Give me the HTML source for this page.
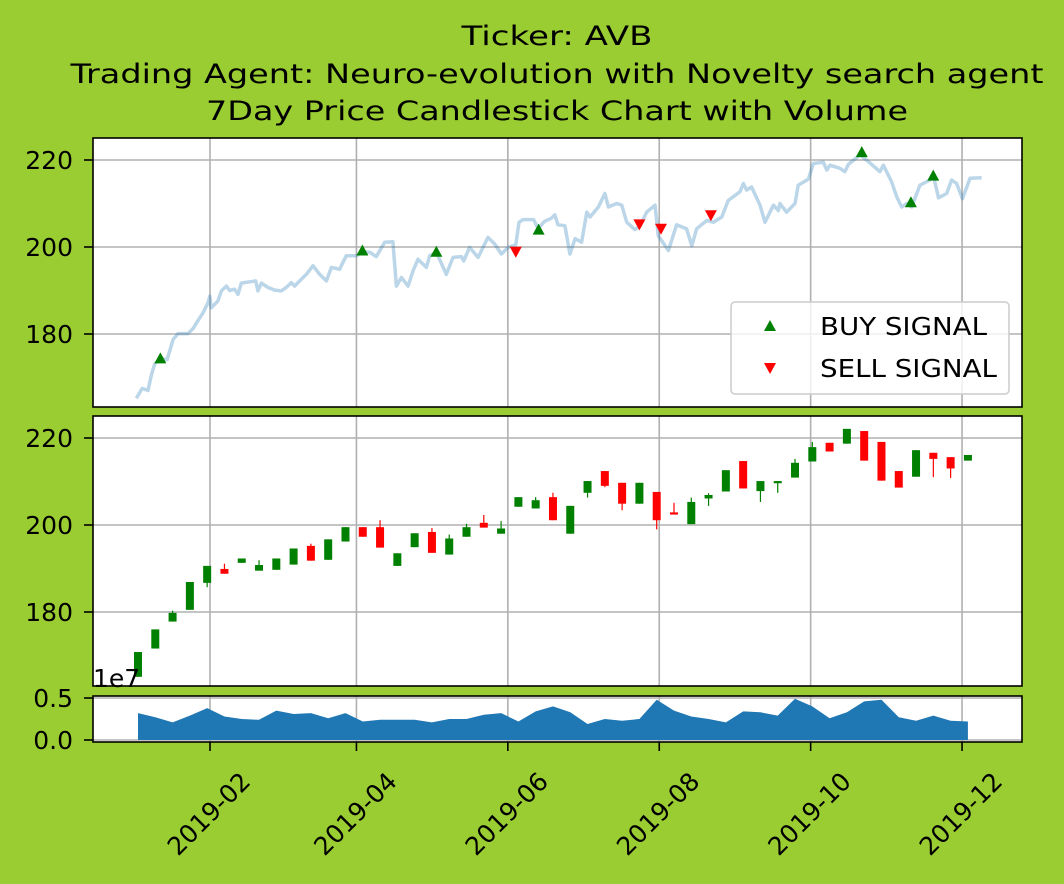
<!DOCTYPE html>
<html><head><meta charset="utf-8"><style>
html,body{margin:0;padding:0;background:#9acd32;}
svg{display:block;font-family:"DejaVu Sans","Liberation Sans",sans-serif;}
</style></head><body>
<svg id="c" width="1064" height="884" viewBox="0 0 1064 884" xmlns="http://www.w3.org/2000/svg">
<rect x="0" y="0" width="1064" height="884" fill="#9acd32"/>
<g font-size="27" text-anchor="middle" fill="#000">
<text x="557" y="45" textLength="191" lengthAdjust="spacingAndGlyphs">Ticker: AVB</text>
<text x="557" y="83" textLength="973" lengthAdjust="spacingAndGlyphs">Trading Agent: Neuro-evolution with Novelty search agent</text>
<text x="557" y="120" textLength="702" lengthAdjust="spacingAndGlyphs">7Day Price Candlestick Chart with Volume</text>
</g>
<defs>
<clipPath id="clip1"><rect x="93" y="138" width="929" height="269"/></clipPath>
<clipPath id="clip2"><rect x="93" y="416" width="929" height="270"/></clipPath>
<clipPath id="clip3"><rect x="93" y="696" width="929" height="46"/></clipPath>
</defs>
<g id="layer"></g>
</svg>
<script>
// ---- data ----
const xTickLabels = ["2019-02","2019-04","2019-06","2019-08","2019-10","2019-12"];
const xTickDays = [31,90,151,212,273,334];
const priceTicks = [180,200,220];
const volTicks = [0.0,0.5];
const lineDays = [1.3,3.7,6.0,7.4,8.7,11.0,13.7,16.1,18.1,22.1,24.1,25.5,28.2,30.2,30.9,31.5,34.2,35.6,37.6,38.9,40.9,42.3,43.6,47.0,49.4,50.3,51.7,54.4,57.1,59.7,61.7,63.8,65.1,67.8,69.8,72.5,75.2,77.9,79.9,83.2,85.9,90.0,92.6,95.3,98.0,101.4,104.7,106.1,108.1,110.8,112.8,114.8,118.2,119.5,122.2,126.2,128.9,132.3,133.2,135.6,139.0,143.0,145.7,148.4,151.1,154.2,155.5,157.1,161.4,163.2,165.8,168.5,169.9,171.2,174.0,176.0,178.1,180.7,182.8,184.1,187.5,190.1,191.5,194.8,196.9,198.9,202.2,204.2,206.9,210.3,211.6,215.7,219.0,223.0,225.1,227.1,231.1,233.8,237.2,239.8,244.5,245.9,247.2,249.2,252.6,254.6,258.0,260.0,260.6,263.3,266.7,268.0,272.1,274.1,278.1,279.5,280.8,284.8,286.8,288.2,292.9,296.3,300.9,302.3,305.6,307.0,307.7,309.7,311.7,313.7,317.0,321.1,322.4,324.5,327.8,329.8,331.8,334.2,337.2,341.9];
const lineClose = [165.2,167.5,167.0,170.6,173.1,174.4,174.1,178.7,180.1,180.1,181.2,182.5,184.9,187.2,188.7,186.0,187.6,189.9,191.0,190.0,190.3,189.1,191.7,192.0,192.2,189.9,191.7,190.7,190.1,189.9,190.7,191.8,191.0,192.6,193.7,195.7,193.7,192.2,195.3,194.9,198.0,198.0,198.9,198.8,197.8,201.1,201.2,191.0,193.0,191.0,194.5,197.2,195.3,198.0,198.8,193.7,197.6,197.8,196.8,199.9,197.6,202.2,200.7,198.4,199.9,200.5,205.7,206.3,206.3,204.2,205.9,206.6,207.4,205.1,204.9,198.4,201.9,201.1,208.0,206.9,209.2,212.3,209.2,210.0,209.6,205.7,204.0,204.8,208.0,209.6,202.6,199.2,205.1,204.2,200.3,204.2,206.1,205.7,206.9,210.7,212.7,214.6,213.1,213.8,209.6,205.7,209.6,208.4,210.0,208.0,210.0,214.2,215.6,219.2,219.5,217.7,218.8,218.1,217.3,219.0,221.2,219.6,217.3,218.8,215.0,212.7,211.5,209.2,210.0,209.2,214.2,215.4,216.5,211.3,212.3,215.4,214.6,211.1,215.8,215.9];
const buyDays = [11.0,92.4,122.2,163.4,293.6,313.4,322.4];
const buyPrices = [174.4,199.2,198.9,204.0,221.8,210.3,216.4];
const sellDays = [154.2,204.0,212.7,232.8];
const sellPrices = [198.9,205.2,204.2,207.3];
const candleDays = [2,9,16,23,30,37,44,51,58,65,72,79,86,93,100,107,114,121,128,135,142,149,156,163,170,177,184,191,198,205,212,219,226,233,240,247,254,261,268,275,282,289,296,303,310,317,324,331,338];
const candleOpen = [165.1,171.6,177.8,180.5,186.7,189.9,191.3,189.5,189.7,190.9,195.2,192.0,196.2,199.5,199.5,190.6,194.9,198.4,193.2,197.3,200.5,198.0,204.2,203.8,206.4,198.0,207.4,212.4,209.7,204.9,207.6,202.9,200.2,206.1,207.7,214.7,207.8,209.6,210.9,214.6,218.9,218.7,221.6,219.1,212.4,211.1,216.6,215.6,214.8];
const candleClose = [170.8,176.0,179.8,186.9,190.6,188.8,192.3,190.8,192.3,194.6,191.8,196.7,199.5,197.3,194.8,193.5,198.1,193.6,196.9,199.5,199.4,199.2,206.4,205.7,201.1,204.4,210.1,209.0,204.9,209.7,201.1,202.4,205.3,206.9,212.6,208.4,210.1,210.1,214.3,217.9,216.9,222.1,214.8,210.2,208.6,217.2,215.2,213.0,216.1];
const candleHigh = [170.8,176.0,180.3,186.9,190.6,191.1,192.3,191.9,192.3,194.6,195.7,196.7,199.5,199.5,201.1,193.5,198.1,199.3,197.8,200.3,202.3,200.9,206.4,206.4,207.4,204.4,210.1,212.4,209.7,209.7,207.6,205.1,206.3,207.3,212.6,214.7,210.1,210.1,215.2,219.1,218.9,222.1,221.6,219.1,212.4,217.2,216.6,215.6,216.1];
const candleLow = [165.1,171.6,177.8,180.5,185.7,188.8,191.3,189.5,189.7,190.9,191.8,192.0,196.2,197.3,194.8,190.6,194.9,193.6,193.2,197.3,199.4,198.0,204.2,203.8,201.1,198.0,206.3,208.7,203.4,204.9,199.0,202.4,200.2,204.4,207.7,208.4,205.3,207.4,210.9,214.6,216.9,218.7,214.8,210.2,208.6,211.1,211.0,210.8,214.8];
const volumes = [0.32,0.27,0.21,0.29,0.38,0.28,0.25,0.24,0.35,0.31,0.32,0.26,0.32,0.22,0.24,0.24,0.24,0.21,0.25,0.25,0.30,0.32,0.22,0.34,0.40,0.33,0.19,0.25,0.23,0.25,0.48,0.35,0.28,0.25,0.21,0.34,0.33,0.29,0.49,0.40,0.26,0.33,0.46,0.48,0.27,0.23,0.29,0.23,0.22];

// ---- axes ----
const NS = "http://www.w3.org/2000/svg";
const X = d => 133.06 + d * 2.482;
const XC = d => 138 + (d - 2) * 2.47;
const Y1 = p => 247 - (p - 200) * 4.35;
const Y2 = p => 525 - (p - 200) * 4.35;
const YV = v => 740 - v * 84;
const layer = document.getElementById('layer');
function mk(tag, attrs, parent) {
  const e = document.createElementNS(NS, tag);
  for (const k in attrs) e.setAttribute(k, attrs[k]);
  (parent || layer).appendChild(e);
  return e;
}
const panels = [
  {y0:138,y1:407,clip:'clip1',name:'price-line-panel'},
  {y0:416,y1:686,clip:'clip2',name:'candlestick-panel'},
  {y0:696,y1:742,clip:'clip3',name:'volume-panel'}
];
const groups = [];
panels.forEach(p => {
  const bg = mk('rect',{x:93,y:p.y0,width:929,height:p.y1-p.y0,fill:'#fff'});
  
  
  const g = mk('g',{'clip-path':'url(#'+p.clip+')'});
  
  
  groups.push(g);
  xTickDays.forEach(d => {
    const l = mk('line',{x1:X(d),x2:X(d),y1:p.y0,y2:p.y1,stroke:'#b0b0b0','stroke-width':1.6},g);
    
    
  });
});
[[Y1,groups[0],priceTicks],[Y2,groups[1],priceTicks],[YV,groups[2],volTicks]].forEach(([fy,g,ticks],i) => {
  ticks.forEach(t => {
    const y = fy(t);
    const l = mk('line',{x1:93,x2:1022,y1:y,y2:y,stroke:'#b0b0b0','stroke-width':1.6},g);
    
    
    const tk = mk('line',{x1:84,x2:93,y1:y,y2:y,stroke:'#000','stroke-width':1.6});
    
    
    const tx = mk('text',{x:73,y:y+9,'font-size':25,'text-anchor':'end',fill:'#000'});
    tx.textContent = i === 2 ? t.toFixed(1) : String(t);
    
    
  });
});
let dstr = '';
lineDays.forEach((d,i) => { dstr += (i ? 'L' : 'M') + X(d).toFixed(1) + ',' + Y1(lineClose[i]).toFixed(1); });
const pl = mk('path',{d:dstr,fill:'none',stroke:'rgba(31,119,180,0.3)','stroke-width':3.5,'stroke-linejoin':'round'},groups[0]);


buyDays.forEach((d,i) => {
  const x = X(d), y = Y1(buyPrices[i]);
  const m = mk('polygon',{points:`${x-6},${y+5} ${x+6},${y+5} ${x},${y-6}`,fill:'#008000'},groups[0]);
  
  
});
sellDays.forEach((d,i) => {
  const x = X(d), y = Y1(sellPrices[i]);
  const m = mk('polygon',{points:`${x-6},${y-5} ${x+6},${y-5} ${x},${y+6}`,fill:'#ff0000'},groups[0]);
  
  
});
candleDays.forEach((d,i) => {
  const up = candleClose[i] >= candleOpen[i];
  const col = up ? '#008000' : '#ff0000';
  const x = XC(d);
  const w = mk('line',{x1:x,x2:x,y1:Y2(candleHigh[i]),y2:Y2(candleLow[i]),stroke:col,'stroke-width':1.2},groups[1]);
  
  
  const top = Y2(Math.max(candleOpen[i],candleClose[i]));
  const bot = Y2(Math.min(candleOpen[i],candleClose[i]));
  const b = mk('rect',{x:x-4,y:top,width:8,height:Math.max(bot-top,1),fill:col},groups[1]);
  
  
});
let vstr = 'M' + XC(candleDays[0]) + ',' + YV(0);
candleDays.forEach((d,i) => { vstr += 'L' + XC(d).toFixed(1) + ',' + YV(volumes[i]).toFixed(1); });
vstr += 'L' + XC(candleDays[candleDays.length-1]) + ',' + YV(0) + 'Z';
const va = mk('path',{d:vstr,fill:'#1f77b4'},groups[2]);


panels.forEach(p => {
  const r = mk('rect',{x:93,y:p.y0,width:929,height:p.y1-p.y0,fill:'none',stroke:'#000','stroke-width':1.6});
  
  
});
xTickDays.forEach((d,i) => {
  const x = X(d);
  const tk = mk('line',{x1:x,x2:x,y1:742,y2:751,stroke:'#000','stroke-width':1.6});
  
  
  const t = mk('text',{x:x,y:815,'font-size':25,'text-anchor':'middle','dominant-baseline':'middle',transform:`rotate(-45 ${x} 815)`,fill:'#000'});
  t.textContent = xTickLabels[i];
  
  
});
const oe = mk('text',{x:93,y:687,'font-size':25,fill:'#000'});
oe.textContent = '1e7';


const lg = mk('g',{});


mk('rect',{x:731,y:302,width:278,height:92,rx:4,fill:'rgba(255,255,255,0.8)',stroke:'#cccccc','stroke-width':1.5},lg);
const lb = mk('polygon',{points:'764,331 776,331 770,320',fill:'#008000'},lg);


const lt1 = mk('text',{x:820,y:335,'font-size':25,fill:'#000',textLength:167,lengthAdjust:'spacingAndGlyphs'},lg);
lt1.textContent = 'BUY SIGNAL';


const ls = mk('polygon',{points:'764,363 776,363 770,374',fill:'#ff0000'},lg);


const lt2 = mk('text',{x:820,y:377,'font-size':25,fill:'#000',textLength:177,lengthAdjust:'spacingAndGlyphs'},lg);
lt2.textContent = 'SELL SIGNAL';


</script>
</body></html>
